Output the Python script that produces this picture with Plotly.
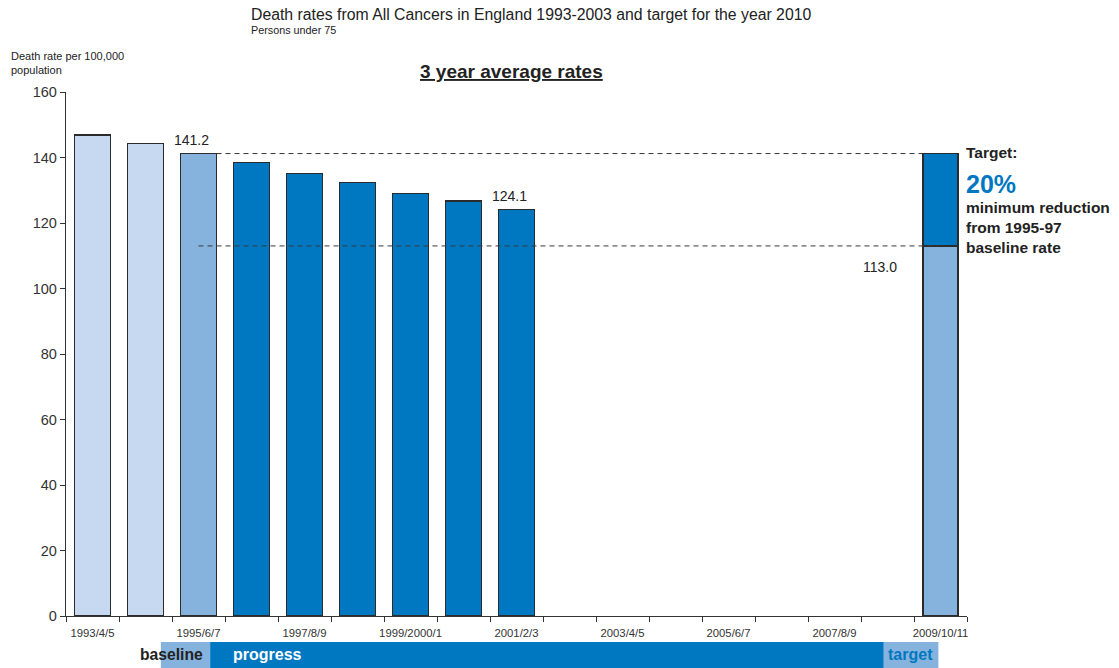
import plotly.graph_objects as go

categories = ["1993/4/5", "1994/5/6", "1995/6/7", "1996/7/8", "1997/8/9", "1998/9/2000",
              "1999/2000/1", "2000/1/2", "2001/2/3", "2002/3/4", "2003/4/5", "2004/5/6",
              "2005/6/7", "2006/7/8", "2007/8/9", "2008/9/10", "2009/10/11"]
rates = [146.9, 144.3, 141.2, 138.5, 135.1, 132.3, 129.1, 126.7, 124.1]
baseline_rate = 141.2
target_rate = 113.0
shown_labels = categories[::2]

PALE = "#C6D9F1"
MID = "#86B3DE"
DARK = "#0077C1"
EDGE = "#2b2b2b"
FONT = "Arial, Liberation Sans, sans-serif"

n = len(categories)
xs = list(range(len(rates)))
bar_colors = [PALE, PALE, MID] + [DARK] * (len(rates) - 3)
target_idx = n - 1

fig = go.Figure()
fig.add_trace(go.Bar(x=xs, y=rates, marker=dict(color=bar_colors, line=dict(color=EDGE, width=1.3)),
                     width=0.68, hoverinfo="y"))
fig.add_trace(go.Bar(x=[target_idx], y=[target_rate], marker=dict(color=MID, line=dict(color=EDGE, width=1.3)),
                     width=0.66))
fig.add_trace(go.Bar(x=[target_idx], y=[round(baseline_rate - target_rate, 1)], base=[target_rate],
                     marker=dict(color=DARK, line=dict(color=EDGE, width=1.3)), width=0.66))
# invisible trace to activate the label axis
fig.add_trace(go.Scatter(x=[0], y=[0], xaxis="x2", mode="markers", marker=dict(opacity=0),
                         hoverinfo="skip", showlegend=False))

shapes = [
    dict(type="line", xref="x", yref="y", x0=2, x1=target_idx - 0.33, y0=baseline_rate, y1=baseline_rate,
         line=dict(color="#333", width=1, dash="5px,4px"), layer="below"),
    dict(type="line", xref="x", yref="y", x0=2, x1=target_idx - 0.05, y0=target_rate, y1=target_rate,
         line=dict(color="#3a3a3a", width=1, dash="5px,4px"), layer="above"),
    # bottom band
    dict(type="rect", xref="x", yref="paper", x0=1.29, x1=2.22, y0=-0.0992, y1=-0.0496,
         fillcolor=MID, line=dict(width=0)),
    dict(type="rect", xref="x", yref="paper", x0=2.22, x1=14.93, y0=-0.0992, y1=-0.0496,
         fillcolor=DARK, line=dict(width=0)),
    dict(type="rect", xref="x", yref="paper", x0=14.93, x1=15.96, y0=-0.0992, y1=-0.0496,
         fillcolor=MID, line=dict(width=0)),
]

annotations = [
    dict(text="Death rates from All Cancers in England 1993-2003 and target for the year 2010",
         xref="paper", yref="paper", x=0.2036, y=1.147, xanchor="left", yanchor="middle",
         showarrow=False, font=dict(family=FONT, size=15.8, color="#222")),
    dict(text="Persons under 75", xref="paper", yref="paper", x=0.2036, y=1.118, xanchor="left",
         yanchor="middle", showarrow=False, font=dict(family=FONT, size=10.8, color="#222")),
    dict(text="Death rate per 100,000<br>population", xref="paper", yref="paper", x=-0.0633, y=1.0553,
         xanchor="left", yanchor="middle", align="left", showarrow=False,
         font=dict(family=FONT, size=11, color="#222")),
    dict(text="<b><u>3 year average rates</u></b>", xref="paper", yref="paper", x=0.495, y=1.040,
         xanchor="center", yanchor="middle", showarrow=False, font=dict(family=FONT, size=19, color="#222")),
    dict(text=f"{rates[2]:.1f}", x=2, y=rates[2], xref="x", yref="y", xshift=-7, yshift=4,
         yanchor="bottom", showarrow=False, font=dict(family=FONT, size=14, color="#222")),
    dict(text=f"{rates[-1]:.1f}", x=len(rates) - 1, y=rates[-1], xref="x", yref="y", xshift=-7, yshift=4,
         yanchor="bottom", showarrow=False, font=dict(family=FONT, size=14, color="#222")),
    dict(text=f"{target_rate:.1f}", x=14.86, y=target_rate, xref="x", yref="y", yshift=-21,
         yanchor="middle", showarrow=False, font=dict(family=FONT, size=14, color="#222")),
    dict(text="<b>Target:</b>", xref="paper", yref="paper", x=0.9967, y=0.8836, xanchor="left",
         yanchor="middle", showarrow=False, font=dict(family=FONT, size=15.5, color="#222")),
    dict(text="<b>20%</b>", xref="paper", yref="paper", x=0.9967, y=0.824, xanchor="left",
         yanchor="middle", showarrow=False, font=dict(family=FONT, size=25, color=DARK)),
    dict(text="<b>minimum reduction<br>from 1995-97<br>baseline rate</b>", xref="paper", yref="paper",
         x=0.9967, y=0.742, xanchor="left", yanchor="middle", align="left", showarrow=False,
         font=dict(family=FONT, size=15.5, color="#222")),
    # band labels
    dict(text="<b>baseline</b>", xref="x", yref="paper", x=2.12, y=-0.0744, xanchor="right",
         yanchor="middle", showarrow=False, font=dict(family=FONT, size=15.7, color="#222")),
    dict(text="<b>progress</b>", xref="x", yref="paper", x=2.62, y=-0.0744, xanchor="left",
         yanchor="middle", showarrow=False, font=dict(family=FONT, size=16, color="white")),
    dict(text="<b>target</b>", xref="x", yref="paper", x=14.98, y=-0.0744, xanchor="left",
         yanchor="middle", showarrow=False, font=dict(family=FONT, size=16, color=DARK)),
]

fig.update_layout(
    width=1119, height=668,
    margin=dict(l=66, r=152, t=92, b=52),
    paper_bgcolor="white", plot_bgcolor="white",
    barmode="stack", showlegend=False,
    font=dict(family=FONT, color="#333"),
    xaxis=dict(range=[-0.5, n - 0.5], tickmode="array",
               tickvals=[k - 0.5 for k in range(n + 1)], ticktext=[""] * (n + 1),
               ticks="outside", ticklen=5, tickcolor="#333", tickwidth=1.3,
               showline=True, linecolor="#333", linewidth=1.3, showgrid=False, zeroline=False,
               fixedrange=True),
    xaxis2=dict(overlaying="x", anchor="y", side="bottom", range=[-0.5, n - 0.5], tickmode="array",
                tickvals=list(range(0, n, 2)), ticktext=shown_labels, ticks="outside", ticklen=6,
                tickcolor="rgba(0,0,0,0)", showline=False, showgrid=False, zeroline=False,
                tickfont=dict(family=FONT, size=11.3, color="#333")),
    yaxis=dict(range=[0, 160], tickmode="array", tickvals=list(range(0, 161, 20)),
               ticks="outside", ticklen=5, tickcolor="#333", tickwidth=1.3,
               showline=True, linecolor="#333", linewidth=1.3, showgrid=False, zeroline=False,
               tickfont=dict(family=FONT, size=14.5, color="#333")),
    shapes=shapes,
    annotations=annotations,
)

fig.write_html("out.html")
